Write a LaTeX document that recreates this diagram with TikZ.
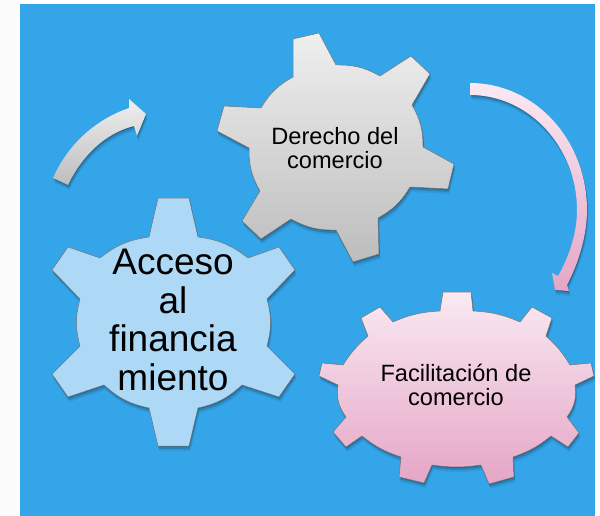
\documentclass[tikz,border=0pt]{standalone}
\usepackage{fontspec}
\setmainfont{Liberation Sans}
\usetikzlibrary{shadows}

\definecolor{bgblue}{HTML}{35A5E9}
\definecolor{gearblue}{HTML}{ADD9F6}
\definecolor{greytop}{HTML}{EFEFEF}
\definecolor{greylow}{HTML}{BDBDBD}
\definecolor{pinktop}{HTML}{F9E9F2}
\definecolor{pinklow}{HTML}{E5A6C6}

\tikzset{
    softshadow/.style={
        drop shadow={shadow xshift=0.5pt,shadow yshift=-1pt,fill=black,opacity=.22},
        drop shadow={shadow xshift=1pt,shadow yshift=-3pt,fill=black,opacity=.14},
        drop shadow={shadow xshift=1.5pt,shadow yshift=-5pt,fill=black,opacity=.07}},
    gearline/.style={draw=black!55,line width=0.5pt,line join=round},
    greyfill/.style={top color=greytop,bottom color=greylow},
    pinkfill/.style={top color=pinktop,bottom color=pinklow},
    geartext/.style={align=center,text=black,inner sep=0pt,
        font=\fontsize{23.6}{24}\selectfont},
    bigtext/.style={align=center,text=black,inner sep=0pt,
        font=\fontsize{37}{38.5}\selectfont},
}

\begin{document}
\begin{tikzpicture}[x=1pt,y=-1pt]
    \useasboundingbox (0,0) rectangle (600,516);
    % Draw background
    \fill[black!1.5] (0,0) rectangle (20,516);
    \fill[black!1] (595,0) rectangle (600,516);
    \fill[bgblue] (20,4) rectangle (595,516);

    % Draw arrows
    \path[softshadow,greyfill] (53,178) .. controls (70,140) and (100,118) .. (129,108)
        -- (129,99) -- (146,114) -- (137,136) -- (134,126)
        .. controls (110,132) and (85,150) .. (68,185) -- cycle;
    \path[softshadow,pinkfill] (470,83) .. controls (535,83) and (587,140) .. (587,210)
        .. controls (587,235) and (579,262) .. (567,285)
        -- (569,291) -- (555,290) -- (552,273) -- (558,276)
        .. controls (570,255) and (577,232) .. (577,210)
        .. controls (577,148) and (530,95) .. (470,95) -- cycle;

    % Draw 3 gears
    \path[softshadow,gearline,greyfill] (293,77) -- (293,39) -- (319,33) -- (336,65)
        to[bend left=15] (380,76) -- (411,56) -- (430,74) -- (412,105)
        to[bend left=15] (423,147) -- (454,164) -- (448,189) -- (410,187)
        to[bend left=15] (378,218) -- (379,254) -- (353,262) -- (336,230)
        to[bend left=15] (291,219) -- (261,239) -- (242,221) -- (260,191)
        to[bend left=15] (249,148) -- (217,131) -- (224,106) -- (261,108)
        to[bend left=15] cycle;
    \path[softshadow,gearline,fill=gearblue] (149,237) -- (158,198) -- (189,198) -- (198,237)
        to[bend left=15] (248,258) -- (279,247) -- (295,270) -- (267,299)
        to[bend left=15] (267,346) -- (295,374) -- (279,397) -- (242,385)
        to[bend left=15] (198,408) -- (189,446) -- (158,446) -- (149,408)
        to[bend left=15] (104,385) -- (68,397) -- (52,374) -- (80,346)
        to[bend left=15] (80,299) -- (52,270) -- (68,247) -- (100,258)
        to[bend left=15] cycle;
    \path[softshadow,gearline,pinkfill] (440,311) -- (443,292) -- (471,292) -- (473,311)
        to[bend left=10] (520,322) -- (532,307) -- (552,318) -- (546,336)
        to[bend left=8] (570,365) -- (591,363) -- (594,376) -- (575,385)
        to[bend left=22] (567,417) -- (579,433) -- (568,447) -- (551,436)
        to[bend left=10] (513,457) -- (514,477) -- (489,484) -- (481,465)
        to[bend left=8] (432,465) -- (424,483) -- (399,477) -- (401,457)
        to[bend left=10] (362,436) -- (346,447) -- (333,432) -- (346,417)
        to[bend left=22] (338,385) -- (319,376) -- (322,363) -- (343,365)
        to[bend left=8] (368,336) -- (361,318) -- (380,307) -- (393,322)
        to[bend left=10] cycle;

    % Draw labels
    \node[geartext] (derecho) at (335,148) {Derecho del\\comercio};
    \node[bigtext] (acceso) at (173,320) {Acceso\\al\\financia\\miento};
    \node[geartext] (facilita) at (456,385) {Facilitación de\\comercio};
\end{tikzpicture}
\end{document}
